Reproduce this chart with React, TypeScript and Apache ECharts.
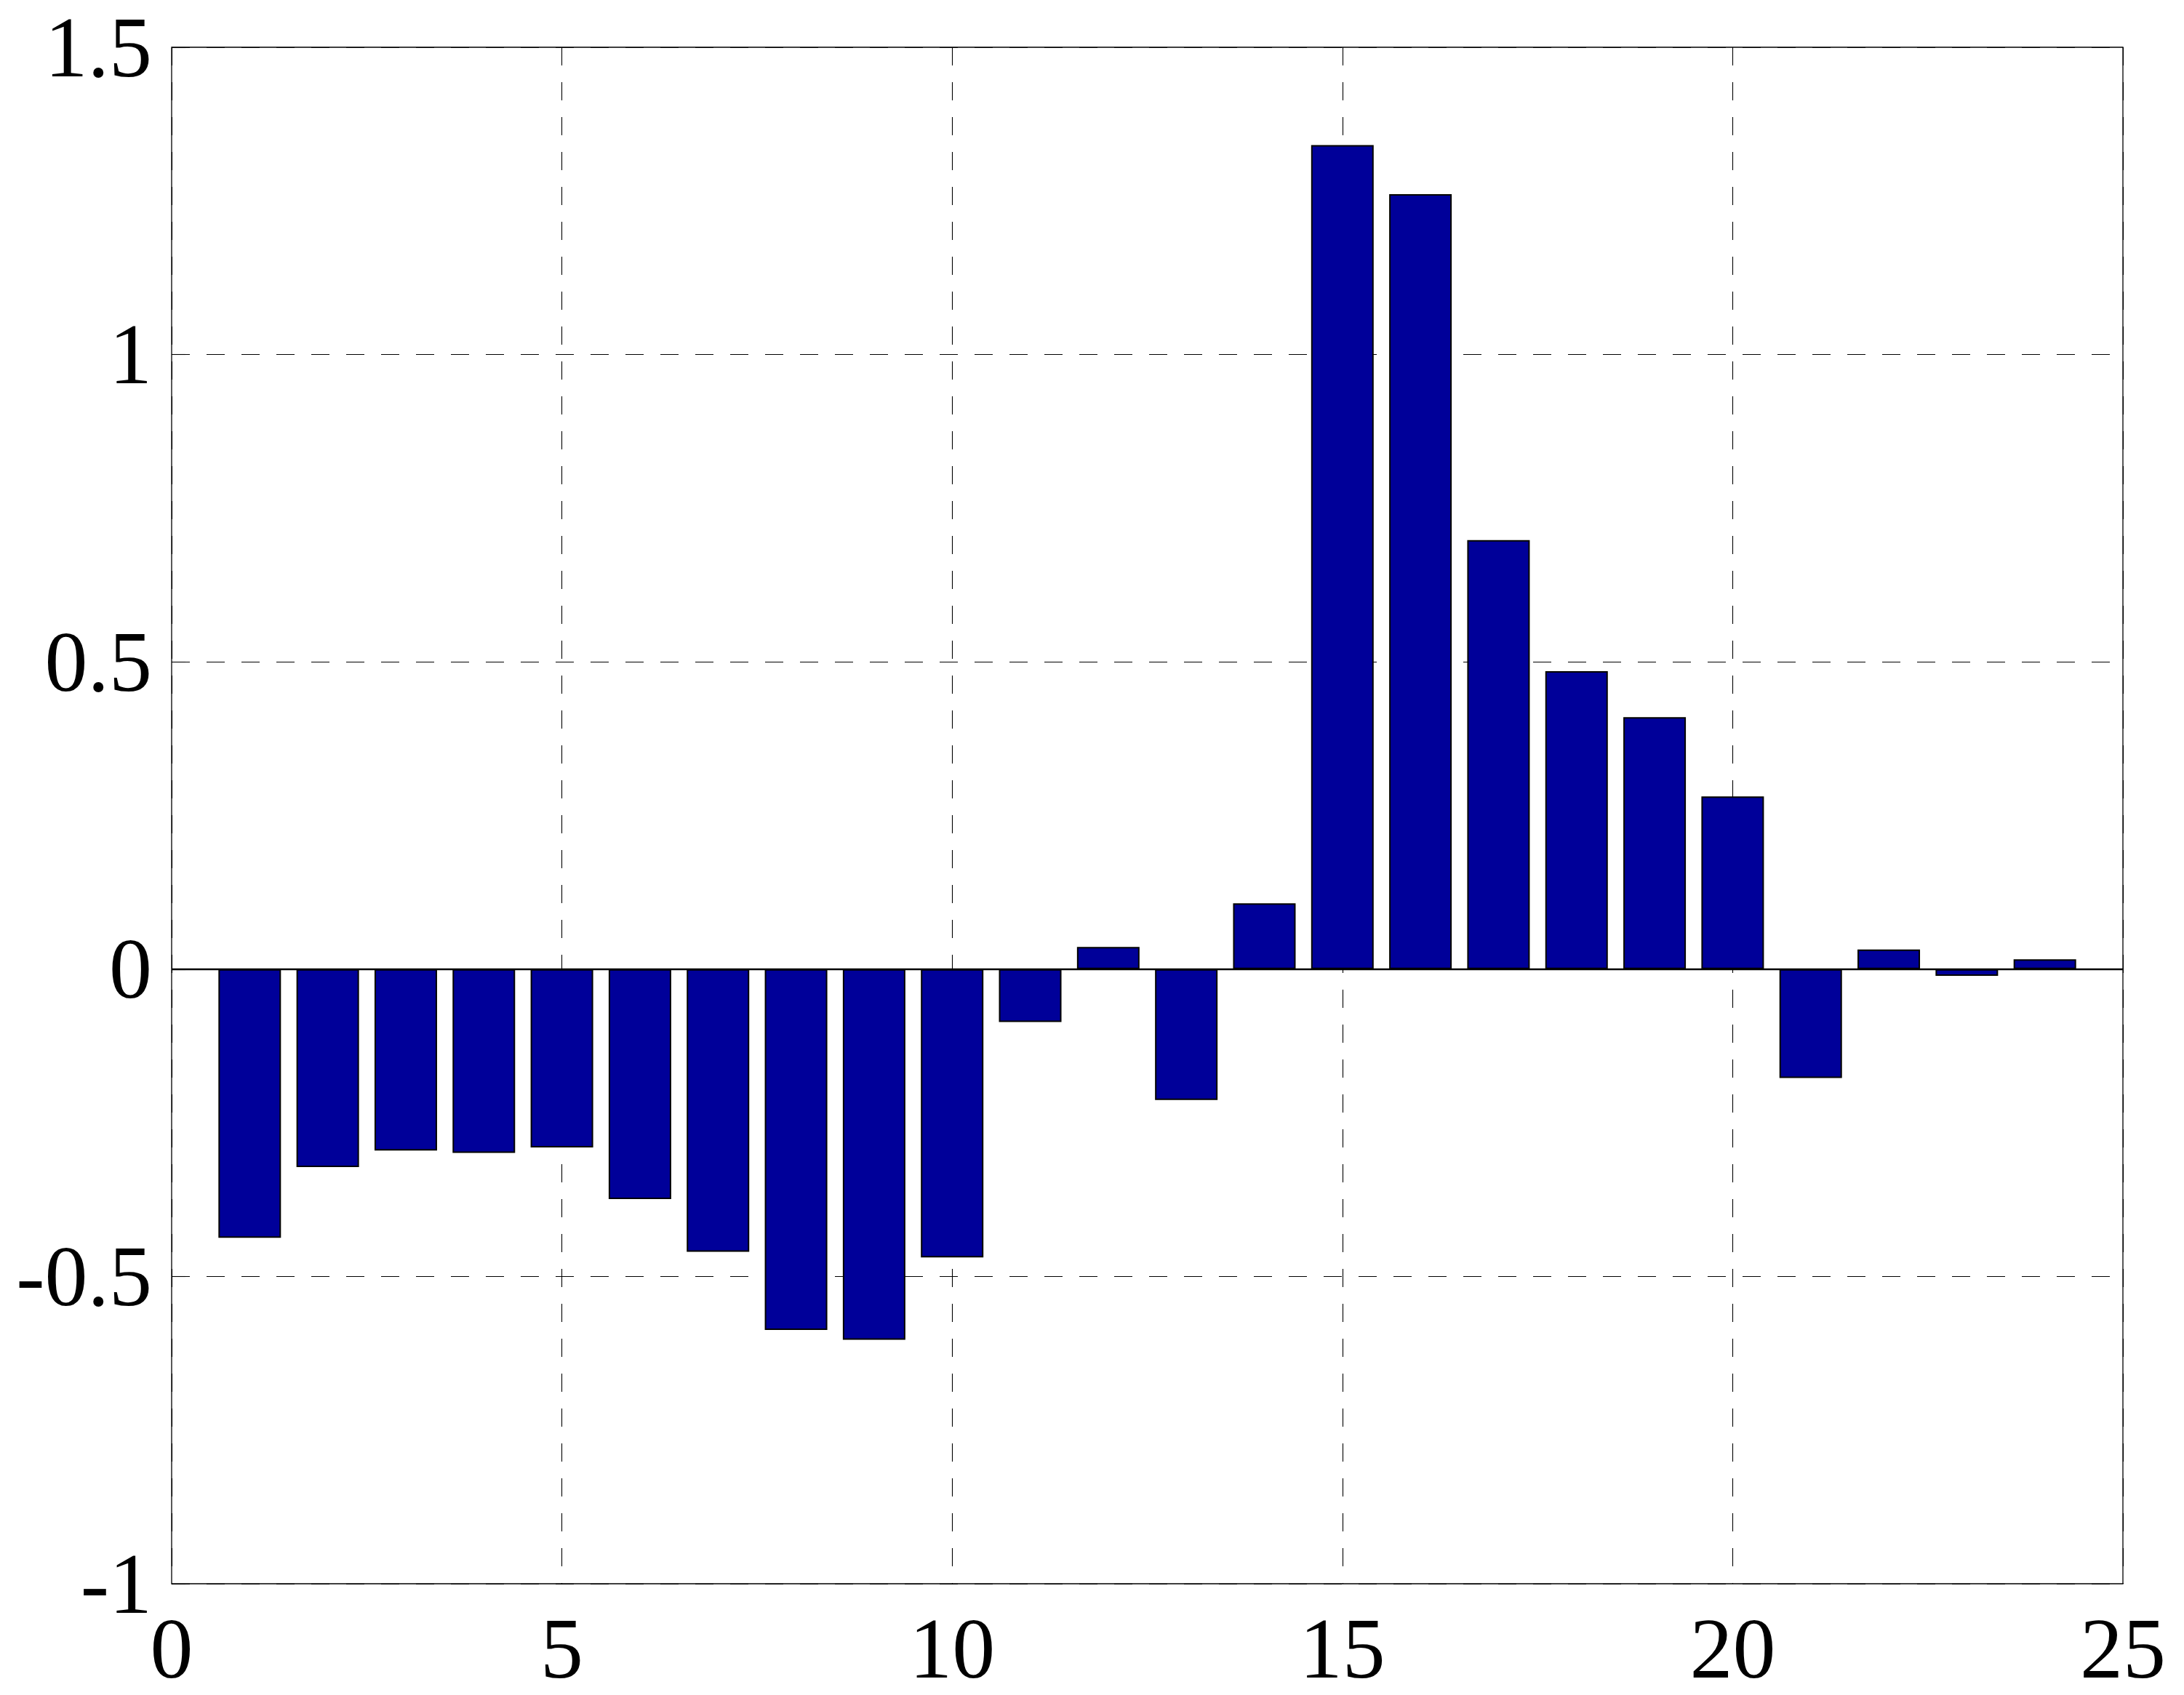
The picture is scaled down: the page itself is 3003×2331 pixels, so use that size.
import React, { useEffect, useRef } from 'react';
import * as echarts from 'echarts';

const xValues = [1, 2, 3, 4, 5, 6, 7, 8, 9, 10, 11, 12, 13, 14, 15, 16, 17, 18, 19, 20, 21, 22, 23, 24];
const barValues = [
  -0.437, -0.322, -0.295, -0.299, -0.29, -0.374, -0.46, -0.587, -0.603, -0.469,
  -0.086, 0.036, -0.213, 0.107, 1.341, 1.261, 0.698, 0.485, 0.41, 0.281,
  -0.177, 0.032, -0.011, 0.016,
];
const xMin = 0;
const xMax = 25;
const xStep = 5;
const yMin = -1;
const yMax = 1.5;
const yStep = 0.5;

export default function App() {
  const ref = useRef<HTMLDivElement>(null);
  useEffect(() => {
    document.body.style.margin = '0';
    const chart = echarts.init(ref.current as HTMLDivElement, null, { renderer: 'svg' });
    const font = '"Liberation Serif", "Times New Roman", serif';
    const gridDash = { type: [25, 23], color: '#000', width: 1.1 };
    chart.setOption({
      animation: false,
      backgroundColor: '#ffffff',
      grid: {
        left: 236,
        top: 65,
        width: 2683,
        height: 2113,
        show: true,
        borderColor: '#000',
        borderWidth: 1.3,
        backgroundColor: 'transparent',
      },
      xAxis: {
        type: 'value',
        min: xMin,
        max: xMax,
        interval: xStep,
        axisLine: { show: false },
        axisTick: { show: false },
        splitLine: { show: true, lineStyle: gridDash },
        axisLabel: { fontFamily: font, fontSize: 118, color: '#000', margin: 30 },
      },
      yAxis: {
        type: 'value',
        min: yMin,
        max: yMax,
        interval: yStep,
        axisLine: { show: false },
        axisTick: { show: false },
        splitLine: { show: true, lineStyle: gridDash },
        axisLabel: { fontFamily: font, fontSize: 118, color: '#000', margin: 27 },
      },
      series: [
        {
          type: 'bar',
          data: xValues.map((x, i) => [x, barValues[i]]),
          barWidth: 86,
          itemStyle: { color: '#000099', borderColor: '#000', borderWidth: 2 },
          markLine: {
            silent: true,
            symbol: 'none',
            label: { show: false },
            lineStyle: { color: '#000', type: 'solid', width: 2.3 },
            data: [{ yAxis: 0 }],
          },
        },
      ],
    });
    return () => chart.dispose();
  }, []);
  return <div ref={ref} style={{ width: 3003, height: 2331 }} />;
}
